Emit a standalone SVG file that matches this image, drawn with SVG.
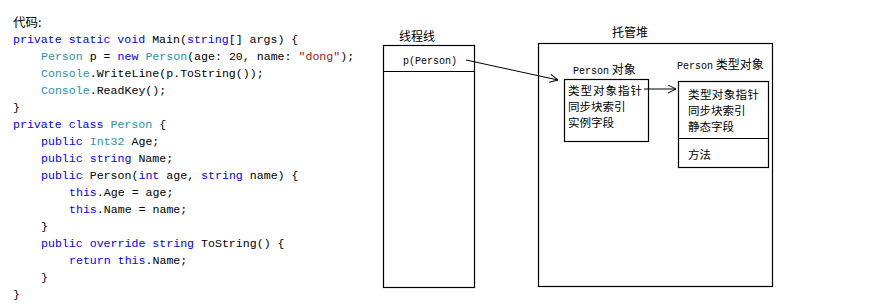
<svg xmlns="http://www.w3.org/2000/svg" width="869" height="305" viewBox="0 0 869 305">
<style>
.code{font-family:"Liberation Mono","Noto Sans CJK SC",monospace;font-size:11.6px;fill:#000}
.k{fill:#0000FF}
.t{fill:#2B91AF}
.s{fill:#A31515}
.box{fill:none;stroke:#000;stroke-width:1.2}
.cjk{font-family:"Noto Sans CJK SC","Liberation Sans",sans-serif;font-size:12px;fill:#000}
.row{font-family:"Noto Sans CJK SC","Liberation Sans",sans-serif;font-size:11.5px;fill:#000}
.mono{font-family:"Liberation Mono",monospace;font-size:10px}
.conn{stroke:#000;stroke-width:1;fill:none}
</style>
<defs>
<marker id="arr" viewBox="0 0 10 10" refX="10" refY="5" markerWidth="9" markerHeight="9" markerUnits="userSpaceOnUse" orient="auto">
<path d="M1,0.5 L10,5 L1,9.5" fill="none" stroke="#000" stroke-width="1.1"/>
</marker>
</defs>
<rect width="869" height="305" fill="#fff"/>
<g id="code">
<text class="cjk" x="13" y="27" style="font-size:12.5px">代码:</text>
<text class="code" x="13" y="43"><tspan class="k">private static void</tspan> Main(<tspan class="k">string</tspan>[] args) {</text>
<text class="code" x="41" y="60"><tspan class="t">Person</tspan> p = <tspan class="k">new</tspan> <tspan class="t">Person</tspan>(age: 20, name: <tspan class="s">"dong"</tspan>);</text>
<text class="code" x="41" y="77"><tspan class="t">Console</tspan>.WriteLine(p.ToString());</text>
<text class="code" x="41" y="94"><tspan class="t">Console</tspan>.ReadKey();</text>
<text class="code" x="13" y="111">}</text>
<text class="code" x="13" y="128"><tspan class="k">private class</tspan> <tspan class="t">Person</tspan> {</text>
<text class="code" x="41" y="145"><tspan class="k">public</tspan> <tspan class="t">Int32</tspan> Age;</text>
<text class="code" x="41" y="162"><tspan class="k">public string</tspan> Name;</text>
<text class="code" x="41" y="179"><tspan class="k">public</tspan> Person(<tspan class="k">int</tspan> age, <tspan class="k">string</tspan> name) {</text>
<text class="code" x="69" y="196"><tspan class="k">this</tspan>.Age = age;</text>
<text class="code" x="69" y="213"><tspan class="k">this</tspan>.Name = name;</text>
<text class="code" x="41" y="230">}</text>
<text class="code" x="41" y="247"><tspan class="k">public override string</tspan> ToString() {</text>
<text class="code" x="69" y="264"><tspan class="k">return this</tspan>.Name;</text>
<text class="code" x="41" y="281">}</text>
<text class="code" x="13" y="298">}</text>
</g>
<g id="thread-stack">
<text class="cjk" x="417" y="41" text-anchor="middle">线程线</text>
<rect class="box" x="383.5" y="45.5" width="91" height="242"/>
<line class="box" x1="383.5" y1="71.5" x2="474.5" y2="71.5"/>
<text class="mono" x="430" y="63.5" text-anchor="middle">p(Person)</text>
</g>
<g id="managed-heap">
<text class="cjk" x="630" y="37" text-anchor="middle">托管堆</text>
<rect class="box" x="538.5" y="43.5" width="234" height="243"/>
</g>
<g id="person-object">
<text class="cjk" x="573" y="74"><tspan class="mono">Person</tspan> 对象</text>
<rect class="box" x="564.5" y="79.5" width="84" height="62"/>
<text class="row" x="568" y="95" textLength="74">类型对象指针</text>
<text class="row" x="568" y="111">同步块索引</text>
<text class="row" x="568" y="127">实例字段</text>
</g>
<g id="person-type-object">
<text class="cjk" x="677" y="69"><tspan class="mono">Person</tspan> 类型对象</text>
<rect class="box" x="678.5" y="81.5" width="90" height="86"/>
<line class="box" x1="678.5" y1="138.5" x2="768.5" y2="138.5"/>
<text class="row" x="688" y="99" textLength="71">类型对象指针</text>
<text class="row" x="688" y="115">同步块索引</text>
<text class="row" x="688" y="131">静态字段</text>
<text class="row" x="688" y="159">方法</text>
</g>
<g id="connectors">
<path class="conn" d="M644,89 L676,89" marker-end="url(#arr)"/>
<path class="conn" d="M466,60 L558,80" marker-end="url(#arr)"/>
</g>
</svg>
